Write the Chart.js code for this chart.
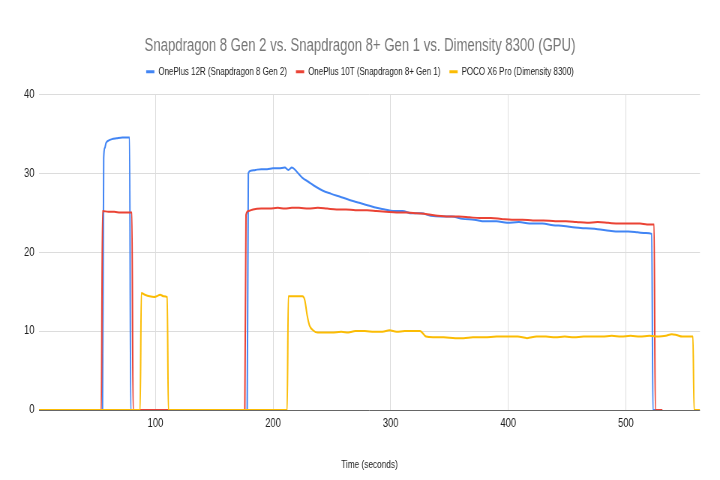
<!DOCTYPE html>
<html>
<head>
<meta charset="utf-8">
<script src="https://cdn.jsdelivr.net/npm/chart.js@4.4.1/dist/chart.umd.min.js"></script>
<style>
  html, body { margin: 0; padding: 0; background: #fff; overflow: hidden; }
  /* the source picture is squeezed sideways, so draw wide and scale down */
  #wrap { width: 960px; height: 480px; transform: scaleX(0.75); transform-origin: 0 0; }
</style>
</head>
<body>
<div id="wrap"><canvas id="myChart" width="960" height="480"></canvas></div>
<script>
// GPU load over time (seconds)
var seriesNames = ["OnePlus 12R (Snapdragon 8 Gen 2)", "OnePlus 10T (Snapdragon 8+ Gen 1)", "POCO X6 Pro (Dimensity 8300)"];
var seriesColors = ["#4285F4", "#EA4335", "#FBBC04"];

var blueTime = [1, 55, 56, 57, 58, 60, 63, 67, 72, 78, 79, 178, 179, 181, 185, 190, 195, 200, 205, 210, 213, 216, 220, 225, 230, 236, 242, 249, 257, 265, 274, 281, 288, 295, 302, 310, 318, 326, 334, 343, 352, 361, 371, 380, 390, 399, 409, 418, 429, 438, 447, 457, 466, 476, 486, 494, 502, 510, 517, 522, 523, 531];
var blueGPU = [0, 0, 31.9, 33.2, 33.8, 34.1, 34.3, 34.4, 34.5, 34.5, 0, 0, 30.0, 30.3, 30.4, 30.5, 30.5, 30.6, 30.6, 30.7, 30.4, 30.7, 30.2, 29.4, 28.9, 28.3, 27.8, 27.4, 27.0, 26.6, 26.2, 25.9, 25.6, 25.4, 25.2, 25.2, 24.9, 24.9, 24.6, 24.5, 24.5, 24.2, 24.1, 23.9, 23.9, 23.7, 23.8, 23.6, 23.6, 23.4, 23.3, 23.1, 23.0, 22.9, 22.7, 22.6, 22.6, 22.5, 22.4, 22.3, 0, 0];

var redTime = [1, 54, 55, 60, 65, 70, 80, 81, 176, 177, 179, 183, 190, 197, 204, 210, 216, 222, 230, 238, 246, 254, 262, 270, 280, 288, 296, 305, 314, 322, 331, 340, 349, 358, 367, 376, 385, 394, 403, 412, 421, 430, 440, 449, 458, 467, 476, 485, 494, 503, 512, 518, 524, 525, 531];
var redGPU = [0, 0, 25.2, 25.1, 25.1, 25.0, 25.0, 0, 0, 24.7, 25.2, 25.4, 25.5, 25.5, 25.6, 25.5, 25.6, 25.6, 25.5, 25.6, 25.5, 25.4, 25.4, 25.3, 25.3, 25.2, 25.1, 25.0, 25.0, 24.9, 24.8, 24.6, 24.5, 24.5, 24.4, 24.3, 24.3, 24.2, 24.1, 24.1, 24.0, 24.0, 23.9, 23.9, 23.8, 23.7, 23.8, 23.7, 23.6, 23.6, 23.6, 23.5, 23.5, 0, 0];

var yellowTime = [1, 87, 88, 91, 95, 99, 101, 104, 107, 110, 111, 212, 213, 218, 225, 227, 229, 231, 234, 238, 245, 250, 258, 264, 270, 278, 286, 293, 299, 305, 312, 320, 325, 330, 336, 345, 355, 362, 370, 380, 390, 400, 408, 416, 424, 432, 440, 448, 456, 464, 472, 480, 488, 496, 504, 512, 520, 528, 534, 539, 543, 548, 553, 557, 558, 563];
var yellowGPU = [0, 0, 14.8, 14.6, 14.4, 14.3, 14.4, 14.6, 14.4, 14.3, 0, 0, 14.4, 14.4, 14.4, 13.9, 12.0, 10.7, 10.1, 9.8, 9.8, 9.8, 9.9, 9.8, 10.0, 10.0, 9.9, 9.9, 10.1, 9.9, 10.0, 10.0, 10.0, 9.3, 9.2, 9.2, 9.1, 9.1, 9.2, 9.2, 9.3, 9.3, 9.3, 9.1, 9.3, 9.3, 9.2, 9.3, 9.2, 9.3, 9.3, 9.3, 9.4, 9.3, 9.4, 9.3, 9.4, 9.3, 9.4, 9.6, 9.5, 9.3, 9.3, 9.3, 0, 0];

var xTicks = [100, 200, 300, 400, 500];
var yTicks = [0, 10, 20, 30, 40];

function toPoints(times, values) {
    var pts = [];
    for (var i = 0; i < times.length; i++) {
        pts.push({ x: times[i], y: values[i] });
    }
    return pts;
}

function makeDataset(i, times, values, order) {
    return {
        label: seriesNames[i],
        data: toPoints(times, values),
        borderColor: seriesColors[i],
        backgroundColor: seriesColors[i],
        borderWidth: 2,
        pointRadius: 0,
        fill: false,
        cubicInterpolationMode: "monotone",
        order: order
    };
}

Chart.defaults.font.family = "Arial, 'Liberation Sans', sans-serif";

new Chart(document.getElementById("myChart"), {
    type: "line",
    data: {
        datasets: [
            makeDataset(0, blueTime, blueGPU, 2),
            makeDataset(1, redTime, redGPU, 1),
            makeDataset(2, yellowTime, yellowGPU, 0)
        ]
    },
    options: {
        responsive: false,
        animation: false,
        devicePixelRatio: 1,
        layout: { padding: { left: 26.7, right: 26.7, top: 0, bottom: 0 } },
        plugins: {
            title: {
                display: true,
                text: "Snapdragon 8 Gen 2 vs. Snapdragon 8+ Gen 1 vs. Dimensity 8300 (GPU)",
                color: "#757575",
                font: { size: 17.5, weight: "normal", lineHeight: 1 },
                padding: { top: 37, bottom: 0 }
            },
            // empty spacer between the legend and the plot
            subtitle: {
                display: true,
                text: "",
                weight: 0,
                font: { size: 7, lineHeight: 1 },
                padding: 0
            },
            legend: {
                position: "top",
                labels: {
                    color: "#222",
                    font: { size: 10.6 },
                    boxWidth: 11,
                    boxHeight: 3,
                    padding: 12,
                    sort: function(a, b) { return a.datasetIndex - b.datasetIndex; },
                    generateLabels: function(chart) {
                        var items = Chart.defaults.plugins.legend.labels.generateLabels(chart);
                        items.forEach(function(it) { it.lineWidth = 0; });
                        return items;
                    }
                }
            },
            tooltip: { enabled: false }
        },
        scales: {
            x: {
                type: "linear",
                min: 1,
                max: 563,
                afterBuildTicks: function(scale) {
                    scale.ticks = xTicks.map(function(v) { return { value: v }; });
                },
                afterFit: function(scale) { scale.height = 70; },
                grid: { color: "#dcdcdc", drawTicks: false },
                border: { display: false },
                ticks: { color: "#222", font: { size: 12.5 }, padding: 6, maxRotation: 0 },
                title: {
                    display: true,
                    text: "Time (seconds)",
                    color: "#222",
                    font: { size: 11 },
                    padding: { top: 0, bottom: 8 }
                }
            },
            y: {
                min: 0,
                max: 40,
                afterBuildTicks: function(scale) {
                    scale.ticks = yTicks.map(function(v) { return { value: v }; });
                },
                afterFit: function(scale) { scale.width = 25.3; },
                grid: {
                    drawTicks: false,
                    color: function(ctx) { return ctx.tick && ctx.tick.value === 0 ? "#666" : "#dcdcdc"; }
                },
                border: { display: false },
                ticks: { color: "#222", font: { size: 12.5 }, padding: 6 }
            }
        }
    }
});
</script>
</body>
</html>
